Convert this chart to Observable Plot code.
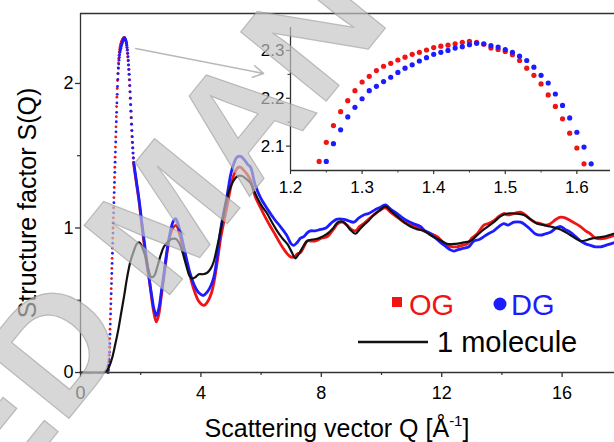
<!DOCTYPE html>
<html><head><meta charset="utf-8">
<script src="https://cdn.jsdelivr.net/npm/d3@7"></script>
<script src="https://cdn.jsdelivr.net/npm/@observablehq/plot@0.6"></script>
<style>
body{margin:0;background:#fff;}
#wrap{position:relative;width:614px;height:442px;overflow:hidden;background:#fff;}
#wrap svg{position:absolute;}
</style></head><body><div id="wrap"></div>
<script>
const FONT = "'Liberation Sans', Arial, sans-serif";
const RED = "#f01414", BLUE = "#1c1cff", BLACK = "#111";

// ---- axes / ticks ----
const xDomain = [0, 17.74];
const yDomain = [0, 2.484];
const xTicks = [0, 4, 8, 12, 16];
const xMinor = [2, 6, 10, 14];
const yTicks = [0, 1, 2];
const yMinor = [0.5, 1.5];
const insetX = [1.2, 1.647];
const insetY = [2.049, 2.348];
const insetXTicks = [1.2, 1.3, 1.4, 1.5, 1.6];
const insetXMinor = [1.25, 1.35, 1.45, 1.55];
const insetYTicks = [2.1, 2.2, 2.3];
const insetYMinor = [2.15, 2.25];

// ---- OG (red) low-Q points, step 0.01 ----
const ogDots = [[0.91,0.000],[0.92,0.015],[0.93,0.040],[0.94,0.075],[0.95,0.120],[0.96,0.175],[0.97,0.235],[0.98,0.300],[0.99,0.370],[1.00,0.440],
[1.01,0.510],[1.02,0.580],[1.03,0.650],[1.04,0.720],[1.05,0.790],[1.06,0.860],[1.07,0.930],[1.08,1.000],[1.09,1.070],[1.10,1.140],
[1.11,1.210],[1.12,1.280],[1.13,1.350],[1.14,1.420],[1.15,1.490],[1.16,1.560],[1.17,1.630],[1.18,1.700],[1.19,1.770],[1.20,1.840],
[1.21,1.905],[1.22,1.965],[1.23,2.020],[1.24,2.068],[1.25,2.108],[1.26,2.143],[1.27,2.172],[1.28,2.195],[1.29,2.216],[1.30,2.234],
[1.31,2.246],[1.32,2.258],[1.33,2.267],[1.34,2.273],[1.35,2.280],[1.36,2.286],[1.37,2.292],[1.38,2.296],[1.39,2.301],[1.40,2.306],
[1.41,2.309],[1.42,2.311],[1.43,2.314],[1.44,2.317],[1.45,2.319],[1.46,2.317],[1.47,2.313],[1.48,2.305],[1.49,2.302],[1.50,2.298],
[1.51,2.291],[1.52,2.279],[1.53,2.263],[1.54,2.248],[1.55,2.230],[1.56,2.207],[1.57,2.183],[1.58,2.157],[1.59,2.127],[1.60,2.096],
[1.61,2.063],[1.62,2.025],[1.63,1.985],[1.64,1.942],[1.65,1.898],[1.66,1.853],[1.67,1.808],[1.68,1.763],[1.69,1.718],[1.70,1.674],
[1.71,1.632],[1.72,1.592],[1.73,1.554],[1.74,1.518],[1.75,1.484],[1.76,1.452]];

// ---- DG (blue) low-Q points, step 0.01 ----
const dgDots = [[0.92,0.000],[0.93,0.020],[0.94,0.050],[0.95,0.090],[0.96,0.140],[0.97,0.200],[0.98,0.265],[0.99,0.335],[1.00,0.405],
[1.01,0.475],[1.02,0.545],[1.03,0.615],[1.04,0.685],[1.05,0.755],[1.06,0.825],[1.07,0.895],[1.08,0.965],[1.09,1.035],[1.10,1.105],
[1.11,1.175],[1.12,1.245],[1.13,1.315],[1.14,1.385],[1.15,1.455],[1.16,1.525],[1.17,1.595],[1.18,1.665],[1.19,1.735],[1.20,1.800],
[1.21,1.865],[1.22,1.925],[1.23,1.980],[1.24,2.028],[1.25,2.068],[1.26,2.105],[1.27,2.134],[1.28,2.161],[1.29,2.181],[1.30,2.199],
[1.31,2.216],[1.32,2.225],[1.33,2.235],[1.34,2.244],[1.35,2.254],[1.36,2.263],[1.37,2.270],[1.38,2.278],[1.39,2.285],[1.40,2.292],
[1.41,2.296],[1.42,2.300],[1.43,2.305],[1.44,2.308],[1.45,2.312],[1.46,2.315],[1.47,2.314],[1.48,2.310],[1.49,2.307],[1.50,2.302],
[1.51,2.296],[1.52,2.288],[1.53,2.279],[1.54,2.265],[1.55,2.248],[1.56,2.232],[1.57,2.209],[1.58,2.185],[1.59,2.159],[1.60,2.129],
[1.61,2.098],[1.62,2.063],[1.63,2.025],[1.64,1.985],[1.65,1.942],[1.66,1.898],[1.67,1.853],[1.68,1.808],[1.69,1.763],[1.70,1.718],
[1.71,1.674],[1.72,1.632],[1.73,1.592],[1.74,1.554],[1.75,1.518],[1.76,1.484],[1.77,1.452]];

// ---- OG (red) rest of curve ----
const ogLine = [[1.76,1.452],[1.85,1.32],[1.94,1.19],[2.02,1.05],[2.10,0.91],[2.18,0.78],[2.27,0.66],[2.36,0.52],[2.44,0.41],[2.52,0.35],
[2.60,0.40],[2.68,0.52],[2.77,0.66],[2.87,0.82],[2.97,0.94],[3.07,1.00],[3.18,1.017],[3.30,0.95],[3.43,0.844],[3.54,0.75],[3.65,0.66],
[3.79,0.56],[3.94,0.49],[4.10,0.464],[4.25,0.50],[4.35,0.55],[4.43,0.62],[4.54,0.76],[4.65,0.92],[4.76,1.04],[4.87,1.15],[4.96,1.25],
[5.04,1.33],[5.14,1.39],[5.24,1.42],[5.32,1.42],[5.42,1.40],[5.54,1.37],[5.65,1.33],[5.80,1.22],[5.98,1.14],[6.15,1.07],[6.31,1.01],
[6.48,0.95],[6.64,0.89],[6.80,0.84],[6.98,0.80],[7.10,0.80],[7.20,0.82],[7.31,0.83],[7.42,0.87],[7.53,0.91],[7.66,0.91],[7.81,0.91],
[8.00,0.93],[8.20,0.94],[8.40,0.99],[8.55,1.03],[8.70,1.04],[8.85,1.02],[9.00,0.99],[9.14,0.98],[9.27,1.01],[9.41,1.03],[9.57,1.06],
[9.74,1.09],[9.93,1.12],[10.13,1.14],[10.30,1.11],[10.52,1.075],[10.75,1.04],[10.96,1.02],[11.20,1.00],[11.41,0.98],[11.63,0.96],
[11.85,0.94],[12.00,0.91],[12.18,0.88],[12.35,0.87],[12.51,0.87],[12.68,0.88],[12.85,0.89],[13.00,0.93],[13.18,0.96],[13.40,1.02],
[13.55,1.03],[13.73,1.05],[13.90,1.08],[14.06,1.10],[14.20,1.09],[14.40,1.10],[14.62,1.11],[14.78,1.09],[14.95,1.06],[15.10,1.04],
[15.28,1.03],[15.45,1.02],[15.61,1.03],[15.80,1.06],[15.95,1.075],[16.10,1.07],[16.28,1.05],[16.45,1.03],[16.61,1.01],[16.78,0.98],
[16.94,0.96],[17.10,0.93],[17.28,0.925],[17.45,0.93],[17.61,0.94],[17.75,0.95]];

// ---- DG (blue) rest of curve ----
const dgLine = [[1.77,1.452],[1.86,1.32],[1.95,1.19],[2.03,1.05],[2.11,0.92],[2.19,0.79],[2.27,0.67],[2.36,0.54],[2.44,0.44],[2.52,0.394],
[2.60,0.44],[2.68,0.55],[2.77,0.68],[2.87,0.84],[2.97,0.96],[3.07,1.04],[3.16,1.064],[3.28,1.00],[3.43,0.87],[3.54,0.77],[3.65,0.68],
[3.79,0.60],[3.94,0.55],[4.08,0.533],[4.22,0.56],[4.33,0.60],[4.43,0.66],[4.54,0.80],[4.65,0.98],[4.75,1.10],[4.85,1.20],[4.93,1.30],
[5.00,1.38],[5.10,1.45],[5.20,1.49],[5.32,1.495],[5.45,1.47],[5.55,1.44],[5.65,1.42],[5.80,1.30],[5.98,1.21],[6.15,1.15],[6.31,1.10],
[6.48,1.05],[6.64,1.01],[6.85,0.95],[7.00,0.89],[7.09,0.88],[7.20,0.90],[7.31,0.93],[7.42,0.94],[7.55,0.97],[7.64,0.98],[7.80,0.98],
[7.97,0.99],[8.15,1.00],[8.31,1.03],[8.50,1.06],[8.75,1.06],[8.90,1.05],[9.08,1.04],[9.25,1.07],[9.41,1.09],[9.57,1.10],[9.74,1.12],
[9.93,1.14],[10.13,1.16],[10.30,1.13],[10.52,1.10],[10.70,1.07],[10.85,1.05],[11.05,1.03],[11.29,1.01],[11.45,0.98],[11.63,0.96],
[11.80,0.93],[11.96,0.90],[12.15,0.87],[12.28,0.85],[12.40,0.84],[12.55,0.85],[12.73,0.86],[12.90,0.87],[13.07,0.91],[13.25,0.92],
[13.40,0.94],[13.55,0.96],[13.73,0.98],[13.90,1.01],[14.06,1.03],[14.20,1.02],[14.40,1.04],[14.62,1.04],[14.78,1.02],[14.95,0.99],
[15.10,0.96],[15.28,0.95],[15.45,0.96],[15.61,0.97],[15.80,1.00],[15.95,1.01],[16.10,0.99],[16.28,0.97],[16.45,0.94],[16.61,0.91],
[16.78,0.89],[16.94,0.88],[17.10,0.87],[17.28,0.87],[17.45,0.88],[17.61,0.89],[17.75,0.90]];

// ---- 1 molecule (black) ----
const molLine = [[0,0],[0.5,0],[0.83,0.005],[0.95,0.04],[1.05,0.10],[1.15,0.19],[1.25,0.29],[1.35,0.41],[1.45,0.53],[1.55,0.66],
[1.66,0.77],[1.77,0.84],[1.87,0.89],[1.96,0.90],[2.06,0.86],[2.16,0.80],[2.26,0.71],[2.35,0.66],[2.45,0.67],[2.55,0.73],[2.66,0.81],
[2.77,0.87],[2.93,0.91],[3.05,0.925],[3.16,0.925],[3.27,0.90],[3.38,0.84],[3.46,0.78],[3.54,0.72],[3.62,0.67],[3.71,0.65],[3.82,0.66],
[3.93,0.68],[4.07,0.68],[4.21,0.69],[4.33,0.72],[4.43,0.77],[4.52,0.85],[4.65,0.98],[4.76,1.10],[4.87,1.21],[4.98,1.28],[5.09,1.33],
[5.23,1.36],[5.37,1.36],[5.50,1.34],[5.65,1.31],[5.76,1.26],[5.87,1.21],[6.03,1.15],[6.20,1.10],[6.36,1.04],[6.53,0.98],[6.70,0.93],
[6.87,0.89],[7.00,0.84],[7.14,0.79],[7.22,0.81],[7.31,0.84],[7.42,0.88],[7.53,0.91],[7.70,0.92],[7.86,0.925],[8.03,0.94],[8.20,0.96],
[8.40,1.00],[8.55,1.04],[8.75,1.04],[8.95,0.99],[9.14,0.96],[9.27,0.99],[9.41,1.02],[9.57,1.05],[9.74,1.09],[9.93,1.12],[10.13,1.15],
[10.30,1.12],[10.52,1.08],[10.75,1.04],[10.96,1.01],[11.20,0.99],[11.41,0.98],[11.63,0.95],[11.85,0.925],[12.00,0.91],[12.18,0.89],
[12.45,0.89],[12.73,0.90],[12.96,0.91],[13.18,0.95],[13.40,0.99],[13.73,1.04],[13.95,1.08],[14.18,1.10],[14.45,1.10],[14.73,1.09],
[14.95,1.06],[15.17,1.03],[15.40,1.02],[15.61,1.01],[15.95,0.99],[16.28,0.95],[16.61,0.91],[16.80,0.915],[16.94,0.925],[17.20,0.935],
[17.39,0.94],[17.71,0.96]];

// pointer arrow (peak -> inset)
const arrowQ = [1.83, 6.08];
const arrowS = [2.242, 2.069];

// legend / labels
const legendNames = ["OG", "DG", "1 molecule"];
const xTitle = "Scattering vector Q [Å";
const xTitleSup = "-1";
const yTitle = "Structure factor S(Q)";
const watermark = ["ACCEPTED", "MANUSCRIPT"];

const X = d => d[0], Y = d => d[1];
const axisColor = "#333";

const main = Plot.plot({
  width: 614, height: 442,
  marginLeft: 80, marginRight: 0, marginTop: 13, marginBottom: 70,
  x: {domain: xDomain, axis: null},
  y: {domain: yDomain, axis: null},
  style: {fontFamily: FONT, fontSize: "18px", color: "#000", background: "transparent", overflow: "visible"},
  marks: [
    Plot.ruleY([yDomain[1]], {stroke: axisColor, strokeWidth: 1.3}),
    Plot.arrow([0], {x1: () => arrowQ[0], y1: () => arrowS[0], x2: () => arrowQ[1], y2: () => arrowS[1],
      stroke: "#b8b8b8", strokeWidth: 1.6, headLength: 11}),
    Plot.line(ogLine, {x: X, y: Y, stroke: RED, strokeWidth: 2.8, curve: "catmull-rom"}),
    Plot.line(dgLine, {x: X, y: Y, stroke: BLUE, strokeWidth: 2.8, curve: "catmull-rom"}),
    Plot.dot(ogDots, {x: X, y: Y, r: 1.4, fill: RED, stroke: null}),
    Plot.dot(dgDots, {x: X, y: Y, r: 1.4, fill: BLUE, stroke: null}),
    Plot.line(molLine, {x: X, y: Y, stroke: BLACK, strokeWidth: 2.2, curve: "catmull-rom"}),
    Plot.ruleX([xDomain[0]], {stroke: axisColor, strokeWidth: 1.3}),
    Plot.ruleY([yDomain[0]], {stroke: axisColor, strokeWidth: 1.3}),
    Plot.axisX({ticks: xTicks, tickSize: 5, tickPadding: 9, tickFormat: d3.format("d"), label: null, stroke: axisColor, strokeWidth: 1.3}),
    Plot.axisX({ticks: xMinor, tickSize: 3, tickFormat: () => "", label: null, stroke: axisColor, strokeWidth: 1.2}),
    Plot.axisY({ticks: yTicks, tickSize: 5, tickPadding: 2, tickFormat: d3.format("d"), label: null, stroke: axisColor, strokeWidth: 1.3}),
    Plot.axisY({ticks: yMinor, tickSize: 3, tickFormat: () => "", label: null, stroke: axisColor, strokeWidth: 1.2})
  ]
});
main.style.left = "0px"; main.style.top = "0px";

const ins = Plot.plot({
  width: 364, height: 200,
  marginLeft: 40, marginRight: 4, marginTop: 27, marginBottom: 30,
  x: {domain: insetX, axis: null},
  y: {domain: insetY, axis: null},
  style: {fontFamily: FONT, fontSize: "17px", color: "#000", background: "transparent", overflow: "visible"},
  marks: [
    Plot.dot(ogDots, {filter: d => d[1] >= insetY[0] && d[0] <= insetX[1], x: X, y: Y, r: 2.6, fill: RED, stroke: null}),
    Plot.dot(dgDots, {filter: d => d[1] >= insetY[0] && d[0] <= insetX[1], x: X, y: Y, r: 2.6, fill: BLUE, stroke: null}),
    Plot.ruleX([insetX[0]], {stroke: axisColor, strokeWidth: 1.3}),
    Plot.ruleY([insetY[0]], {stroke: axisColor, strokeWidth: 1.3}),
    Plot.axisX({ticks: insetXTicks, tickSize: 4, tickPadding: 6, tickFormat: d3.format(".1f"), label: null, stroke: axisColor, strokeWidth: 1.2}),
    Plot.axisX({ticks: insetXMinor, tickSize: 2.5, tickFormat: () => "", label: null, stroke: axisColor}),
    Plot.axisY({ticks: insetYTicks, tickSize: 4, tickPadding: 2, tickFormat: d3.format(".1f"), label: null, stroke: axisColor, strokeWidth: 1.2}),
    Plot.axisY({ticks: insetYMinor, tickSize: 2.5, tickFormat: () => "", label: null, stroke: axisColor})
  ]
});
ins.style.left = "250px"; ins.style.top = "0px";

const wrap = document.getElementById("wrap");
wrap.appendChild(main);
wrap.appendChild(ins);

// titles and legend
const svg = d3.select(main);
const xt = svg.append("text").attr("x", 337).attr("y", 437).attr("text-anchor", "middle")
  .attr("font-family", FONT).attr("font-size", 25).attr("fill", "#000");
xt.append("tspan").text(xTitle);
xt.append("tspan").attr("font-size", 15).attr("dy", -11).text(xTitleSup);
xt.append("tspan").attr("dy", 11).text("]");
svg.append("text").attr("transform", "translate(36,203) rotate(-90)").attr("text-anchor", "middle")
  .attr("font-family", FONT).attr("font-size", 25).attr("fill", "#000").text(yTitle);

const lg = svg.append("g").attr("font-family", FONT).attr("font-size", 29).attr("text-anchor", "start");
lg.append("rect").attr("x", 392).attr("y", 297).attr("width", 10).attr("height", 10).attr("fill", RED);
lg.append("text").attr("x", 409).attr("y", 315).attr("text-anchor", "start").attr("fill", RED).text(legendNames[0]);
lg.append("circle").attr("cx", 500).attr("cy", 304).attr("r", 6.5).attr("fill", BLUE);
lg.append("text").attr("x", 511).attr("y", 315).attr("text-anchor", "start").attr("fill", BLUE).text(legendNames[1]);
lg.append("line").attr("x1", 358).attr("x2", 428).attr("y1", 342).attr("y2", 342).attr("stroke", BLACK).attr("stroke-width", 2.6);
lg.append("text").attr("x", 437).attr("y", 352).attr("text-anchor", "start").attr("fill", "#000").text(legendNames[2]);

// watermark overlay
const wm = d3.select(wrap).append("svg").attr("width", 614).attr("height", 442)
  .style("left", "0px").style("top", "0px").style("pointer-events", "none");
const wmg = wm.append("g").attr("font-family", FONT).attr("font-weight", "bold").attr("font-size", 160)
  .attr("fill", "#c4c4c4").attr("fill-opacity", 0.68).attr("stroke", "#999").attr("stroke-opacity", 0.6).attr("stroke-width", 1.2);
wmg.append("text").attr("transform", "translate(135,337) rotate(-51)").attr("text-anchor", "end").text(watermark[0]);
wmg.append("text").attr("transform", "translate(163,303) rotate(-51)").attr("text-anchor", "start").text(watermark[1]);
</script></body></html>
